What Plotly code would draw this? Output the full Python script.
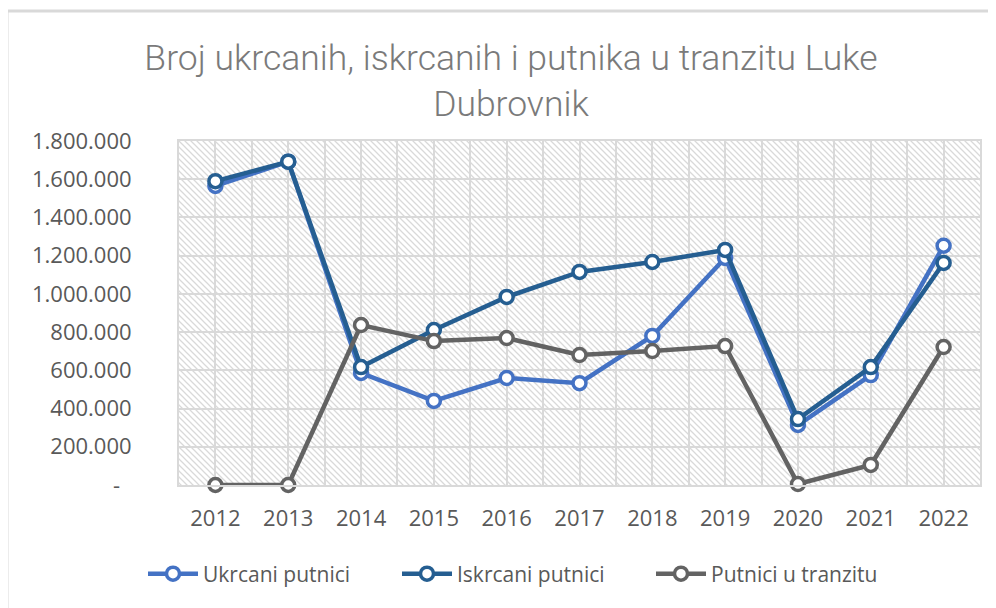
import base64
import plotly.graph_objects as go

years = [2012, 2013, 2014, 2015, 2016, 2017, 2018, 2019, 2020, 2021, 2022]
ukrcani = [1565000, 1692000, 586000, 440000, 560000, 533000, 780000, 1188000, 314000, 575000, 1252000]
iskrcani = [1590000, 1692000, 617000, 811000, 984000, 1115000, 1167000, 1230000, 345000, 617000, 1162000]
tranzit = [0, 0, 837000, 753000, 769000, 680000, 701000, 727000, 5000, 105000, 722000]

series_names = ["Ukrcani putnici", "Iskrcani putnici", "Putnici u tranzitu"]
y_tickvals = [0, 200000, 400000, 600000, 800000, 1000000, 1200000, 1400000, 1600000, 1800000]
y_ticktext = ["-\u00a0\u00a0", "200.000", "400.000", "600.000", "800.000", "1.000.000",
              "1.200.000", "1.400.000", "1.600.000", "1.800.000"]
title_text = "Broj ukrcanih, iskrcanih i putnika u tranzitu Luke<br>Dubrovnik"

colors = ["#4472C4", "#255E91", "#636363"]

# page body has an 8px margin; work in figure coordinates = page - 8
OFF = 8
W, H = 996 - OFF, 608 - OFF
ml, mr, mt, mb = 179 - OFF, 16, 141 - OFF, 608 - 485
pw, ph = W - ml - mr, H - mt - mb

svg = (
    f'<svg xmlns="http://www.w3.org/2000/svg" width="{pw}" height="{ph}">'
    '<defs><pattern id="p" width="6" height="6" patternUnits="userSpaceOnUse">'
    '<path d="M0,0 L6,6 M-3,3 L3,9 M3,-3 L9,3" stroke="#d9d9d9" stroke-width="1.3"/>'
    '</pattern></defs>'
    f'<rect width="{pw}" height="{ph}" fill="white"/>'
    f'<rect width="{pw}" height="{ph}" fill="url(#p)"/></svg>'
)
src = "data:image/svg+xml;base64," + base64.b64encode(svg.encode()).decode()

fig = go.Figure()
for name, vals, col in zip(series_names, [ukrcani, iskrcani, tranzit], colors):
    fig.add_trace(go.Scatter(
        x=years, y=vals, name=name, mode="lines+markers",
        line=dict(color=col, width=4.5),
        marker=dict(symbol="circle", size=13, color="white", line=dict(color=col, width=3.5)),
        cliponaxis=False,
    ))

grid_col = "#d9d9d9"
fig.update_layout(
    width=W, height=H,
    margin=dict(l=ml, r=mr, t=mt, b=mb, autoexpand=False),
    paper_bgcolor="white", plot_bgcolor="rgba(0,0,0,0)",
    font=dict(family="Open Sans", size=22, color="#595959"),
    title=dict(text=title_text, x=(511 - OFF) / W, xanchor="center", xref="container",
               y=1 - 62 / H, yanchor="top", yref="container",
               font=dict(family="Roboto, sans-serif", size=35.5, color="#7a7a7a", weight=300)),
    xaxis=dict(range=[2011.5, 2022.5], tickvals=years, showgrid=True, gridcolor=grid_col, gridwidth=2,
               minor=dict(tick0=2011.5, dtick=1, showgrid=True, gridcolor=grid_col, gridwidth=2),
               showline=True, linecolor=grid_col, linewidth=2, mirror=True, zeroline=False,
               ticks="", ticklabelstandoff=13, tickfont=dict(size=22, color="#595959")),
    yaxis=dict(range=[0, 1800000], tickvals=y_tickvals, ticktext=y_ticktext, showgrid=True,
               gridcolor=grid_col, gridwidth=2, showline=True, linecolor=grid_col, linewidth=2,
               mirror=True, zeroline=False, ticks="", ticklabelstandoff=41,
               tickfont=dict(size=22, color="#595959")),
    legend=dict(orientation="h", x=(143 - 179) / pw, xanchor="left", y=(485 - 574) / ph, yanchor="middle",
                itemwidth=50, entrywidth=189, font=dict(size=21, color="#595959"),
                bgcolor="rgba(0,0,0,0)"),
    images=[dict(source=src, xref="paper", yref="paper", x=0, y=1, sizex=1, sizey=1,
                 sizing="stretch", layer="below")],
    shapes=[dict(type="rect", xref="paper", yref="paper",
                 x0=(7 - 179) / pw, x1=(W + 20 - ml) / pw, y0=-(mb + 20) / ph, y1=(485 - 11) / ph,
                 line=dict(color="#d9d9d9", width=3), fillcolor="rgba(0,0,0,0)", layer="below")],
)
fig.write_html("out.html")
